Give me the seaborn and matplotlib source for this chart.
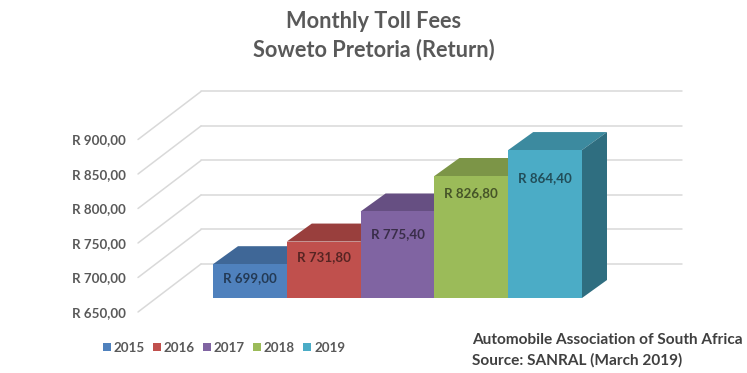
import matplotlib
matplotlib.use("Agg")
import matplotlib.pyplot as plt
from matplotlib.patches import Polygon
from matplotlib.transforms import ScaledTranslation
import seaborn as sns
import pandas as pd

years = ["2015", "2016", "2017", "2018", "2019"]
fees = [699.00, 731.80, 775.40, 826.80, 864.40]
ticks = [650, 700, 750, 800, 850, 900]
title = "Monthly Toll Fees\nSoweto Pretoria (Return)"
source = "Automobile Association of South Africa\nSource: SANRAL (March 2019)"

front = ["#4F81BD", "#C0504D", "#8064A2", "#9BBB59", "#4BACC6"]
tops = ["#3F6797", "#993F3D", "#664F82", "#7C9547", "#3C8A9F"]
sides = ["#2F4D71", "#73302E", "#4D3C61", "#5D7035", "#2F6E80"]
label_drop_px = [14, 16, 22.5, 17.5, 28]
FONT = "Lato"
GREY = "#595959"

W, H = 747, 373
sns.set_theme(style="white")
plt.rcParams["font.family"] = [FONT, "DejaVu Sans"]
plt.rcParams["font.weight"] = "bold"
fig = plt.figure(figsize=(W / 100, H / 100), dpi=100)
ax = fig.add_axes([213 / W, 1 - 298 / H, 369 / W, 172.5 / H])

df = pd.DataFrame({"year": years, "fee": fees})
sns.barplot(data=df, x="year", y="fee", hue="year", palette=front, dodge=False,
            width=1.0, saturation=1, ax=ax, legend=True, linewidth=0)
ax.set_xlim(-0.5, 4.5)
ax.set_ylim(650, 900)
ax.set_xlabel("")
ax.set_ylabel("")
sns.despine(ax=ax, left=True, bottom=True)
ax.patch.set_alpha(0)

px_x = 5 / 369       # category units per pixel
px_y = 250 / 172.5   # value units per pixel

# Walls: gridlines on the back wall and on the left wall
for v in ticks:
    back = v + 34 * px_y
    xb = -0.5 - 12 * px_x
    ax.plot([xb, xb + 481 * px_x], [back, back], color="#D9D9D9", lw=1.1,
            clip_on=False, zorder=1)
    ax.plot([-0.5 - 75 * px_x, xb], [v - 14 * px_y, back], color="#D9D9D9", lw=1.1,
            clip_on=False, zorder=1)

# Depth faces of the blocks, derived from the drawn bars
dx, dy = 25 * px_x, 18 * px_y
for bar, top_c, side_c in zip(ax.patches[:len(years)], tops, sides):
    bar.set_zorder(3)
    l, r, t = bar.get_x(), bar.get_x() + bar.get_width(), bar.get_height()
    ax.add_patch(Polygon([(l, t), (r, t), (r + dx, t + dy), (l + dx, t + dy)],
                         fc=top_c, ec="none", clip_on=False, zorder=2.5))
    ax.add_patch(Polygon([(r, 650), (r + dx, 650 + dy), (r + dx, t + dy), (r, t)],
                         fc=side_c, ec="none", clip_on=False, zorder=2.5))

# Value labels
for i, (v, drop) in enumerate(zip(fees, label_drop_px)):
    ax.text(i, v - drop * px_y, f"R {v:.2f}".replace(".", ","), ha="center", va="center",
            fontsize=9.6, color="#000000", alpha=0.55, zorder=5)

# Tick labels on the front edge of the left wall
ax.set_xticks([])
ax.set_yticks(ticks, [f"R {t:.2f}".replace(".", ",") for t in ticks])
ax.tick_params(axis="y", length=0, pad=63, labelsize=9.6, labelcolor=GREY)
shift = ScaledTranslation(0, -14 / 72 * 0.72, fig.dpi_scale_trans)
for lab in ax.get_yticklabels():
    lab.set_transform(lab.get_transform() + shift)
    lab.set_fontweight("bold")

# Legend
handles, labels = ax.get_legend_handles_labels()
leg = ax.legend(handles, labels, ncol=5, loc="center", frameon=False, fontsize=9.6,
                bbox_to_anchor=(224 / W, 1 - 347.5 / H), bbox_transform=fig.transFigure,
                handlelength=0.6, handleheight=0.6, handletextpad=0.22, columnspacing=0.6,
                labelcolor=GREY, borderpad=0)

fig.text(374 / W, 1 - 36 / H, title, ha="center", va="center", fontsize=15.7,
         color=GREY, linespacing=1.38)
fig.text(472 / W, 1 - 350 / H, source, ha="left", va="center", fontsize=11.1,
         color="#404040", linespacing=1.5)

fig.savefig("out.png", dpi=100, facecolor="white")
